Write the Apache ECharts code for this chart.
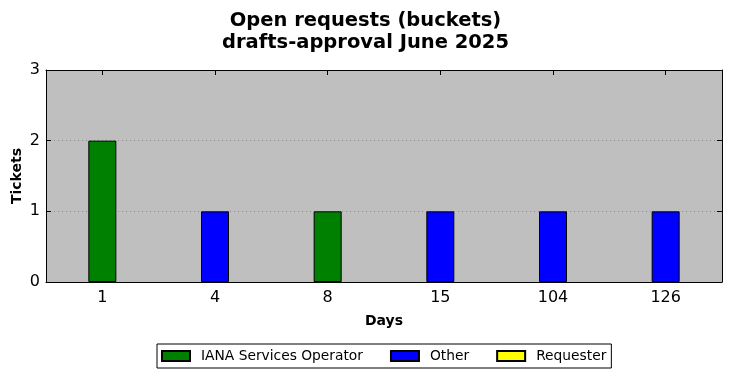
<!DOCTYPE html>
<html>
<head>
<meta charset="utf-8">
<script src="https://cdn.jsdelivr.net/npm/echarts@6/dist/echarts.min.js"></script>
<style>
  html, body { margin: 0; padding: 0; background: #fff; }
  #main { width: 731px; height: 378px; }
</style>
</head>
<body>
<div id="main"></div>
<script>
var chartDom = document.getElementById('main');
var myChart = echarts.init(chartDom, null, { renderer: 'canvas' });

const days = ['1', '4', '8', '15', '104', '126'];
const ianaValues = [2, null, 1, null, null, null];
const otherValues = [null, 1, null, 1, 1, 1];
const requesterValues = [null, null, null, null, null, null];
const yTicks = [0, 1, 2, 3];

const font = 'DejaVu Sans';

function barSeries(name, color, values) {
    return {
        name: name,
        type: 'bar',
        stack: 'total',
        barWidth: 28,
        data: values,
        itemStyle: { color: color, borderColor: '#000', borderWidth: 1 }
    };
}

var option = {
    animation: false,
    backgroundColor: '#fff',
    title: {
        text: 'Open requests (buckets)\ndrafts-approval June 2025',
        left: 'center',
        top: 5,
        textStyle: {
            fontFamily: font,
            fontSize: 19.5,
            fontWeight: 'bold',
            color: '#000',
            lineHeight: 22
        }
    },
    legend: {
        bottom: 10,
        left: 157,
        icon: 'rect',
        itemWidth: 28,
        itemHeight: 10,
        itemGap: 27,
        borderColor: '#000',
        borderWidth: 1,
        borderRadius: 0,
        padding: [5, 5, 5, 4],
        textStyle: { fontFamily: font, fontSize: 13.8, color: '#000', padding: [0, 0, 0, 6] },
        data: ['IANA Services Operator', 'Other', 'Requester']
    },
    grid: {
        left: 46, top: 70, width: 676, height: 212,
        outerBoundsMode: 'none',
        containLabel: false,
        show: true,
        backgroundColor: '#bfbfbf',
        borderWidth: 0
    },
    xAxis: [{
        type: 'category',
        data: days,
        name: 'Days',
        nameLocation: 'middle',
        nameGap: 32,
        nameTextStyle: { fontFamily: font, fontSize: 14, fontWeight: 'bold', color: '#000' },
        axisLine: { show: true, onZero: false, lineStyle: { color: '#000', width: 1 } },
        axisTick: { show: true, inside: true, alignWithLabel: true, length: 5, lineStyle: { color: '#000' } },
        axisLabel: { fontFamily: font, fontSize: 16, color: '#000', margin: 8 },
        splitLine: { show: false }
    }, {
        type: 'category',
        data: days,
        position: 'top',
        axisLine: { show: true, onZero: false, lineStyle: { color: '#000', width: 1 } },
        axisTick: { show: true, inside: true, alignWithLabel: true, length: 5, lineStyle: { color: '#000' } },
        axisLabel: { show: false },
        z: 10
    }],
    yAxis: [{
        type: 'value',
        min: yTicks[0],
        max: yTicks[yTicks.length - 1],
        interval: 1,
        name: 'Tickets',
        nameLocation: 'middle',
        nameGap: 22,
        nameMoveOverlap: false,
        nameTextStyle: { fontFamily: font, fontSize: 14, fontWeight: 'bold', color: '#000' },
        axisLine: { show: true, onZero: false, lineStyle: { color: '#000', width: 1 } },
        axisTick: { show: true, inside: true, length: 5, lineStyle: { color: '#000' } },
        axisLabel: { fontFamily: font, fontSize: 16, color: '#000', margin: 6 },
        splitLine: { show: true, lineStyle: { color: '#8c8c8c', type: [1, 3], width: 1 } }
    }, {
        type: 'value',
        min: yTicks[0],
        max: yTicks[yTicks.length - 1],
        interval: 1,
        position: 'right',
        axisLine: { show: true, onZero: false, lineStyle: { color: '#000', width: 1 } },
        axisTick: { show: true, inside: true, length: 5, lineStyle: { color: '#000' } },
        axisLabel: { show: false },
        splitLine: { show: false },
        z: 10
    }],
    series: [
        barSeries('IANA Services Operator', '#008000', ianaValues),
        barSeries('Other', '#0000ff', otherValues),
        barSeries('Requester', '#ffff00', requesterValues)
    ]
};
option && myChart.setOption(option);
</script>
</body>
</html>
